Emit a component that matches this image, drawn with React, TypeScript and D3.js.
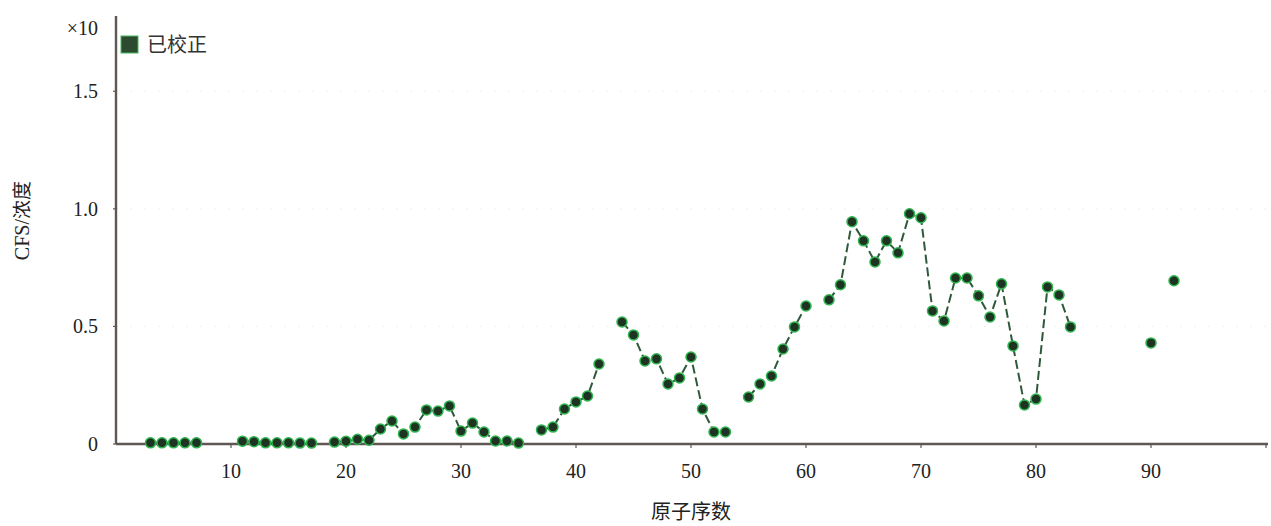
import React from 'react';
import * as d3 from 'd3';

// atomic numbers and corrected CFS/concentration (x10)
const atomicNumbers = [
  3, 4, 5, 6, 7,
  11, 12, 13, 14, 15, 16, 17,
  19, 20, 21, 22, 23, 24, 25, 26, 27, 28, 29, 30, 31, 32, 33, 34, 35,
  37, 38, 39, 40, 41, 42,
  44, 45, 46, 47, 48, 49, 50, 51, 52, 53,
  55, 56, 57, 58, 59, 60,
  62, 63, 64, 65, 66, 67, 68, 69, 70, 71, 72, 73, 74, 75, 76, 77, 78, 79, 80, 81, 82, 83,
  90, 92,
];
const cfsValues = [
  0.005, 0.005, 0.005, 0.005, 0.005,
  0.012, 0.01, 0.005, 0.005, 0.005, 0.004, 0.004,
  0.008, 0.012, 0.02, 0.016, 0.064, 0.098, 0.043, 0.072, 0.145, 0.14, 0.162, 0.055, 0.089, 0.051, 0.013, 0.013, 0.004,
  0.06, 0.072, 0.149, 0.179, 0.204, 0.34,
  0.519, 0.464, 0.353, 0.362, 0.255, 0.281, 0.37, 0.149, 0.051, 0.051,
  0.2, 0.255, 0.289, 0.404, 0.498, 0.587,
  0.613, 0.677, 0.945, 0.864, 0.774, 0.864, 0.813, 0.979, 0.962, 0.566, 0.523, 0.706, 0.706, 0.63, 0.54, 0.681, 0.417, 0.166, 0.191, 0.668, 0.634, 0.498,
  0.43, 0.694,
];
const xTicks = [10, 20, 30, 40, 50, 60, 70, 80, 90];
const yTicks = [0, 0.5, 1.0, 1.5];
const yTickLabels = ['0', '0.5', '1.0', '1.5'];

const width = 1271;
const height = 526;
const serif = '"Liberation Serif", "DejaVu Serif", serif';
const cjk = '"Noto Sans CJK SC", sans-serif';

export default function App() {
  const x = d3.scaleLinear().domain([0, 100]).range([116, 1266]);
  const y = d3.scaleLinear().domain([0, 1.82]).range([444, 16]);

  const points = atomicNumbers.map((z, i) => ({ z, v: cfsValues[i] }));

  const line = d3.line<{ z: number; v: number }>()
    .x(d => x(d.z))
    .y(d => y(d.v));

  // only join neighbouring elements; gaps break the line
  const segments: { z: number; v: number }[][] = [];
  points.forEach((p, i) => {
    if (i > 0 && p.z - points[i - 1].z === 1) {
      segments[segments.length - 1].push(p);
    } else {
      segments.push([p]);
    }
  });

  return (
    <svg width={width} height={height} style={{ position: 'absolute', left: 0, top: 0, background: '#fff' }}>
      {/* faint grid */}
      {yTicks.slice(1).map(t => (
        <line key={'g' + t} x1={x(0)} x2={x(100)} y1={y(t)} y2={y(t)}
          stroke="#f0f0ee" strokeWidth={1} strokeDasharray="2,12" />
      ))}

      {/* axes */}
      <line x1={x(0)} x2={x(0)} y1={y(1.82)} y2={y(0)} stroke="#5e5753" strokeWidth={2.4} />
      <line x1={x(0)} x2={1268} y1={y(0)} y2={y(0)} stroke="#5e5753" strokeWidth={2.4} />
      {xTicks.map(t => (
        <line key={'xt' + t} x1={x(t)} x2={x(t)} y1={y(0)} y2={y(0) + 4} stroke="#5e5753" strokeWidth={1.2} />
      ))}
      <line x1={x(100)} x2={x(100)} y1={y(0)} y2={y(0) + 4} stroke="#5e5753" strokeWidth={1.2} />
      {yTicks.map(t => (
        <line key={'yt' + t} x1={x(0) - 3} x2={x(0)} y1={y(t)} y2={y(t)} stroke="#5e5753" strokeWidth={1.2} />
      ))}

      {/* tick labels */}
      {xTicks.map(t => (
        <text key={'xl' + t} x={x(t)} y={478} textAnchor="middle" fontFamily={serif} fontSize={20} fill="#222">{t}</text>
      ))}
      {yTicks.map((t, i) => (
        <text key={'yl' + t} x={98} y={y(t) + 7} textAnchor="end" fontFamily={serif} fontSize={20} fill="#222">{yTickLabels[i]}</text>
      ))}
      <text x={98} y={35} textAnchor="end" fontFamily={serif} fontSize={20} fill="#222">×10</text>

      {/* axis titles */}
      <text transform={`translate(29,${y(0.95)}) rotate(-90)`} textAnchor="middle" fontFamily={cjk} fontSize={19} fill="#222">
        <tspan fontFamily={serif} fontSize={20}>CFS/</tspan>浓度
      </text>
      <text x={691} y={519} textAnchor="middle" fontFamily={cjk} fontSize={20} fill="#222">原子序数</text>

      {/* series lines */}
      {segments.filter(s => s.length > 1).map((s, i) => (
        <path key={'s' + i} d={line(s) || ''} fill="none" stroke="#2f5a3a" strokeWidth={2} strokeDasharray="9,4" />
      ))}

      {/* markers */}
      {points.map(p => (
        <circle key={'p' + p.z} cx={x(p.z)} cy={y(p.v)} r={5} fill="#1e3322" stroke="#2fb54f" strokeWidth={1.5} />
      ))}

      {/* legend */}
      <rect x={121} y={36} width={17} height={17} fill="#2c4a2e" stroke="#46b85a" strokeWidth={1} />
      <text x={147} y={52} fontFamily={cjk} fontSize={20} fill="#333">已校正</text>
    </svg>
  );
}
